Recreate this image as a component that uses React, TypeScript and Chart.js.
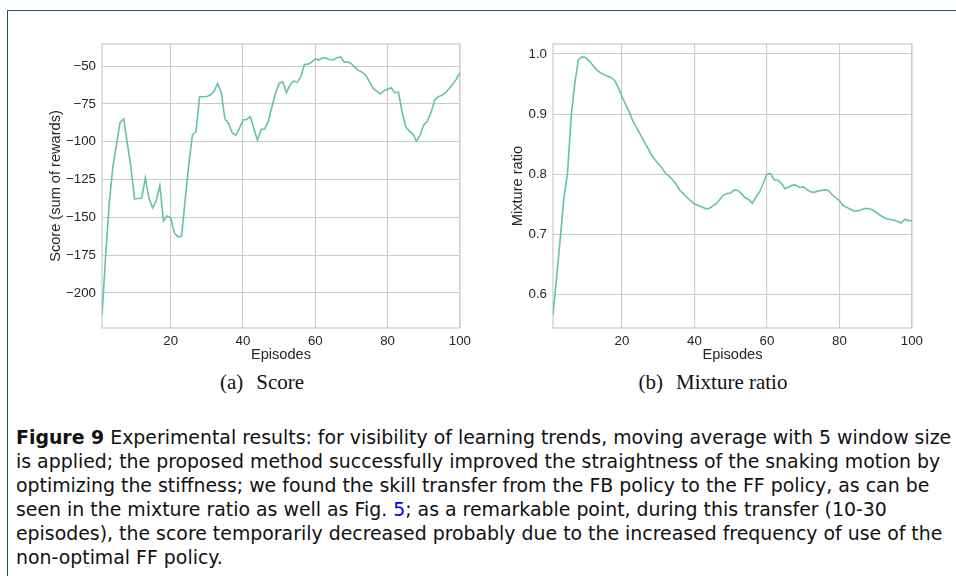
import React, { useEffect, useRef } from 'react';
import { Chart, registerables } from 'chart.js';

Chart.register(...registerables);

// ---- data ----
const scoreValues = [
  -214.7, -176, -140.8, -116.6, -102, -87.3, -85, -101, -116.6, -137.8,
  -137.6, -137.3, -123.9, -137.6, -143.7, -139, -128.9, -152.5, -149, -150.3,
  -160.2, -162.9, -162.5, -138.6, -115.5, -95.6, -93.4, -70.3, -70.3, -70.1,
  -69.2, -66.5, -61.5, -67.6, -85, -87.9, -94.1, -95.8, -91.2, -85.7,
  -85.3, -83.5, -91.5, -99, -91.9, -91.5, -86.4, -76.9, -68, -61.5,
  -60.4, -67.6, -62.6, -59.9, -60.8, -57, -48.9, -48.7, -47.4, -45.2,
  -46, -44.5, -44.7, -45.8, -46, -44.5, -43.9, -47.4, -47.2, -48.5,
  -51.1, -52.9, -54.2, -56.2, -60.4, -64.8, -66.5, -68.5, -66.3, -65.4,
  -64.3, -67.6, -67.2, -80.2, -90.1, -93, -95, -99.6, -95.6, -89,
  -86.4, -80.9, -72.5, -70.3, -69.4, -67.6, -64.8, -62.1, -58.8, -54.4,
];

const mixtureValues = [
  0.566, 0.63, 0.693, 0.76, 0.801, 0.895, 0.951, 0.99, 0.995, 0.994,
  0.988, 0.981, 0.974, 0.969, 0.966, 0.963, 0.961, 0.956, 0.944, 0.93,
  0.916, 0.904, 0.889, 0.878, 0.867, 0.856, 0.845, 0.834, 0.825, 0.818,
  0.811, 0.802, 0.797, 0.791, 0.783, 0.773, 0.768, 0.761, 0.756, 0.751,
  0.748, 0.746, 0.743, 0.743, 0.747, 0.751, 0.758, 0.765, 0.768, 0.769,
  0.774, 0.773, 0.768, 0.761, 0.758, 0.752, 0.762, 0.771, 0.785, 0.8,
  0.801, 0.791, 0.79, 0.785, 0.776, 0.779, 0.782, 0.782, 0.778, 0.779,
  0.775, 0.771, 0.77, 0.772, 0.773, 0.774, 0.773, 0.766, 0.761, 0.756,
  0.748, 0.745, 0.742, 0.739, 0.739, 0.741, 0.743, 0.743, 0.741, 0.737,
  0.733, 0.729, 0.726, 0.725, 0.724, 0.722, 0.719, 0.725, 0.723, 0.723,
];

const episodeTicks = [20, 40, 60, 80, 100];
const scoreTicks = [-200, -175, -150, -125, -100, -75, -50];
const mixtureTicks = [0.6, 0.7, 0.8, 0.9, 1.0];

// ---- style ----
const LINE = '#66c2a5';
const GRID = '#cccccc';
const TEXT = '#262626';
const FONT = "'Liberation Sans', Arial, sans-serif";

const framePlugin = {
  id: 'frameRect',
  beforeDatasetsDraw(chart: any) {
    const { ctx, chartArea: a } = chart;
    ctx.save();
    ctx.strokeStyle = GRID;
    ctx.lineWidth = 1.25;
    ctx.strokeRect(a.left, a.top, a.right - a.left, a.bottom - a.top);
    ctx.restore();
  },
};

type Props = {
  values: number[];
  yTicks: number[];
  yMin: number;
  yMax: number;
  yTitle: string;
  fmt: (v: number) => string;
  yWidth: number;
  yTitlePad: number;
  left: number;
  width: number;
};

function LineChart(p: Props) {
  const ref = useRef<HTMLCanvasElement | null>(null);
  useEffect(() => {
    if (!ref.current) return;
    const chart = new Chart(ref.current, {
      type: 'line',
      data: {
        datasets: [
          {
            data: p.values.map((v, i) => ({ x: i + 1, y: v })),
            borderColor: LINE,
            borderWidth: 1.6,
            pointRadius: 0,
            fill: false,
            tension: 0,
          },
        ],
      },
      options: {
        animation: false,
        responsive: false,
        devicePixelRatio: 1,
        layout: { padding: { left: 0, right: 12, top: 13, bottom: 0 } },
        plugins: { legend: { display: false }, tooltip: { enabled: false } },
        scales: {
          x: {
            type: 'linear',
            min: 1,
            max: 100,
            afterBuildTicks: (s: any) => {
              s.ticks = episodeTicks.map((v) => ({ value: v }));
            },
            afterFit: (s: any) => {
              s.height = 42;
            },
            grid: { color: GRID, lineWidth: 1.1, drawTicks: false },
            border: { display: false },
            ticks: {
              color: TEXT,
              font: { family: FONT, size: 13.3 },
              padding: 5,
              maxRotation: 0,
              autoSkip: false,
              callback: (v: any) => String(v),
            },
            title: {
              display: true,
              text: 'Episodes',
              color: TEXT,
              font: { family: FONT, size: 14.6 },
              padding: { top: 0, bottom: 6 },
            },
          },
          y: {
            type: 'linear',
            min: p.yMin,
            max: p.yMax,
            afterBuildTicks: (s: any) => {
              s.ticks = p.yTicks.map((v) => ({ value: v }));
            },
            afterFit: (s: any) => {
              s.width = p.yWidth;
            },
            grid: { color: GRID, lineWidth: 1.1, drawTicks: false },
            border: { display: false },
            ticks: {
              color: TEXT,
              font: { family: FONT, size: 13.3 },
              padding: 6,
              autoSkip: false,
              callback: (v: any) => p.fmt(Number(v)),
            },
            title: {
              display: true,
              text: p.yTitle,
              color: TEXT,
              font: { family: FONT, size: 14.6 },
              padding: { top: p.yTitlePad, bottom: 0 },
            },
          },
        },
      },
      plugins: [framePlugin],
    } as any);
    return () => chart.destroy();
  }, []);
  return (
    <canvas
      ref={ref}
      width={p.width}
      height={340}
      style={{ position: 'absolute', left: p.left, top: 30, width: p.width, height: 340 }}
    />
  );
}

const capLine: React.CSSProperties = { whiteSpace: 'nowrap', height: 24 };

const subCap: React.CSSProperties = {
  position: 'absolute',
  top: 370,
  transform: 'translateX(-50%)',
  whiteSpace: 'nowrap',
  font: "21px 'Liberation Serif', 'Times New Roman', serif",
  lineHeight: '24px',
  color: '#111',
};

export default function App() {
  return (
    <div
      style={{
        position: 'absolute',
        left: 0,
        top: 0,
        width: 956,
        height: 576,
        overflow: 'hidden',
        background: '#ffffff',
      }}
    >
      <div
        style={{
          position: 'absolute',
          left: 7,
          top: 10,
          width: 1000,
          height: 700,
          borderLeft: '1.5px solid #234a86',
          borderTop: '1.5px solid #234a86',
        }}
      />
      <LineChart
        values={scoreValues}
        yTicks={scoreTicks}
        yMin={-223.2}
        yMax={-35.4}
        yTitle="Score (sum of rewards)"
        fmt={(v) => String(v).replace('-', '\u2212')}
        yWidth={62}
        yTitlePad={7.5}
        left={40}
        width={436}
      />
      <LineChart
        values={mixtureValues}
        yTicks={mixtureTicks}
        yMin={0.5446}
        yMax={1.0165}
        yTitle="Mixture ratio"
        fmt={(v) => v.toFixed(1)}
        yWidth={63}
        yTitlePad={19.5}
        left={490}
        width={438}
      />
      <div style={{ ...subCap, left: 262 }}>
        (a)<span style={{ marginLeft: 13 }}>Score</span>
      </div>
      <div style={{ ...subCap, left: 713 }}>
        (b)<span style={{ marginLeft: 13 }}>Mixture ratio</span>
      </div>
      <div
        style={{
          position: 'absolute',
          left: 16,
          top: 425,
          font: "18.9px 'DejaVu Sans', 'Liberation Sans', sans-serif",
          lineHeight: '24px',
          color: '#111',
        }}
      >
        <div style={capLine}>
          <b>Figure 9</b> Experimental results: for visibility of learning trends, moving average with 5 window size
        </div>
        <div style={capLine}>
          is applied; the proposed method successfully improved the straightness of the snaking motion by
        </div>
        <div style={capLine}>
          optimizing the stiffness; we found the skill transfer from the FB policy to the FF policy, as can be
        </div>
        <div style={capLine}>
          seen in the mixture ratio as well as Fig. <span style={{ color: '#0000ee' }}>5</span>; as a remarkable point, during this transfer (10-30
        </div>
        <div style={capLine}>
          episodes), the score temporarily decreased probably due to the increased frequency of use of the
        </div>
        <div style={capLine}>non-optimal FF policy.</div>
      </div>
    </div>
  );
}
